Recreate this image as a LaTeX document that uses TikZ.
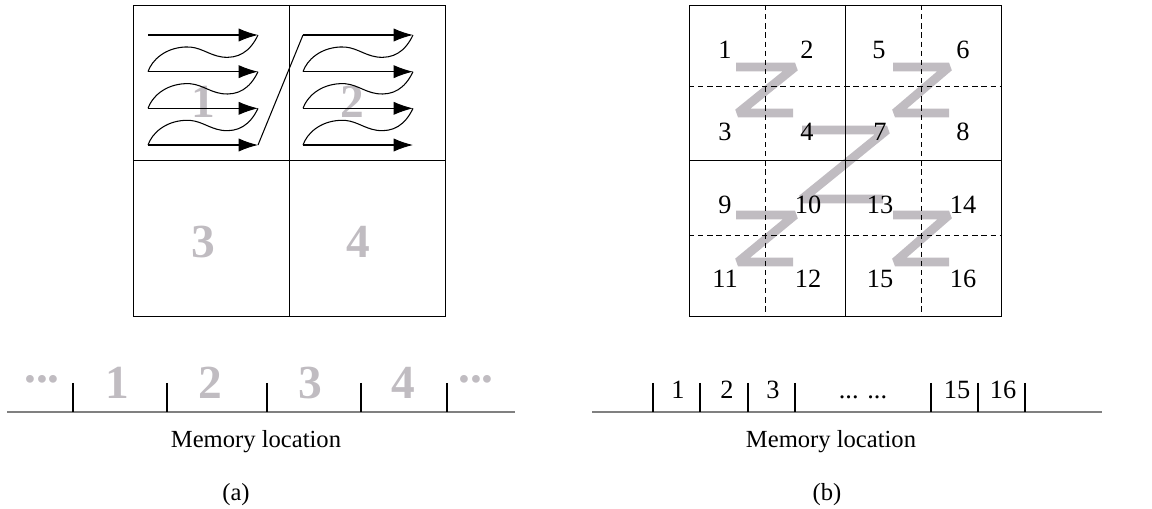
\documentclass[tikz,border=0pt]{standalone}
\usepackage{fontspec}
\setmainfont{Liberation Serif}
\usetikzlibrary{arrows.meta,positioning}

\definecolor{zgray}{RGB}{192,188,193}

\begin{document}
\begin{tikzpicture}[
    x=0.02cm, y=-0.02cm,
    cell/.style={draw=black, line width=0.55pt},
    subcell/.style={draw=black, line width=0.5pt, dash pattern=on 3pt off 2.2pt},
    blocknum/.style={text=zgray, inner sep=0pt, font=\fontsize{27}{30}\selectfont\bfseries},
    num/.style={inner sep=0pt, font=\fontsize{15}{17}\selectfont},
    label/.style={inner sep=0pt, font=\fontsize{14}{16}\selectfont},
    zpath/.style={zgray, line width=5pt, line join=bevel},
    scan/.style={-{Latex[length=11pt,width=7.5pt]}, line width=0.6pt},
    wave/.style={line width=0.6pt},
    tick/.style={line width=0.6pt},
    memline/.style={gray, line width=1.1pt}
]
\useasboundingbox (0,0) rectangle (1152,509);

% ===== (a) row-major blocks =====
\draw[cell] (133,5) rectangle (445,316);
\draw[cell] (289,5) -- (289,316);
\draw[cell] (133,160) -- (445,160);

% Block numbers
\node[blocknum] (b1) at (203,102) {1};
\node[blocknum] (b2) at (352,102) {2};
\node[blocknum] (b3) at (203,242) {3};
\node[blocknum] (b4) at (358,242) {4};

% Scan lines inside blocks 1 and 2
\foreach \p/\xs in {1/148, 2/303} {
    \foreach \r in {0,1,2,3} {
        \coordinate (p\p s\r) at (\xs, {35+36.67*\r});
        \coordinate (p\p e\r) at ({\xs+110}, {35+36.67*\r});
        \draw[scan] (p\p s\r) -- (p\p e\r);
    }
    \foreach \r in {0,1,2} {
        \pgfmathsetmacro\ya{35+36.67*\r}
        \draw[wave] ({\xs+110},\ya)
            .. controls ({\xs+102},{\ya+17}) and ({\xs+90},{\ya+24}) .. ({\xs+74},{\ya+22})
            .. controls ({\xs+60},{\ya+20}) and ({\xs+52},{\ya+11}) .. ({\xs+37},{\ya+12})
            .. controls ({\xs+17},{\ya+13}) and ({\xs+4},{\ya+25}) .. (\xs,{\ya+36.67});
    }
}
\draw[wave] (p1e3) -- (p2s0);

% Memory layout (a)
\draw[memline] (7,412) -- (515,412);
\foreach \x in {73,167,267,361,447}
    \draw[tick] (\x,383) -- (\x,412);
\node[blocknum] (ma0) at (42,379) {...};
\node[blocknum] (ma1) at (117,383) {1};
\node[blocknum] (ma2) at (210,383) {2};
\node[blocknum] (ma3) at (310,383) {3};
\node[blocknum] (ma4) at (403,383) {4};
\node[blocknum] (ma5) at (476,379) {...};

\node[label] (mema) at (256,442) {Memory location};
\node[label] (capa) at (236,495) {(a)};

% ===== (b) Z-order blocks =====
% Z curves first, grid on top
\draw[zpath] (736,67) -- (795,67) -- (738,113) -- (793,113);
\draw[zpath] (893,67) -- (949,67) -- (895,113) -- (949,113);
\draw[zpath] (802,130) -- (887,130) -- (802,199) -- (883,199);
\draw[zpath] (736,215) -- (795,215) -- (738,262) -- (793,262);
\draw[zpath] (893,215) -- (949,215) -- (895,262) -- (949,262);

\draw[subcell] (765,5) -- (765,316);
\draw[subcell] (921,5) -- (921,316);
\draw[subcell] (689,86) -- (1001,86);
\draw[subcell] (689,235) -- (1001,235);
\draw[cell] (689,5) rectangle (1001,316);
\draw[cell] (845,5) -- (845,316);
\draw[cell] (689,160) -- (1001,160);

% Element numbers
\foreach \n/\x/\y in {1/725/50, 2/807/50, 5/879/50, 6/963/50,
                      3/725/132, 4/807/132, 7/880/132, 8/963/132,
                      9/725/205, 10/808/205, 13/880/205, 14/963/205,
                      11/725/279, 12/808/279, 15/880/279, 16/963/279}
    \node[num] (e\n) at (\x,\y) {\n};

% Memory layout (b)
\draw[memline] (592,412) -- (1102,412);
\foreach \x in {653,700,748,795,931,978,1025}
    \draw[tick] (\x,383) -- (\x,412);
\node[num] (mb1) at (678,390) {1};
\node[num] (mb2) at (727,390) {2};
\node[num] (mb3) at (773,390) {3};
\node[num] (mbd) at (863,397) {... ...};
\node[num] (mb15) at (957,390) {15};
\node[num] (mb16) at (1003,390) {16};

\node[label] (memb) at (831,442) {Memory location};
\node[label] (capb) at (827,495) {(b)};

\end{tikzpicture}
\end{document}
